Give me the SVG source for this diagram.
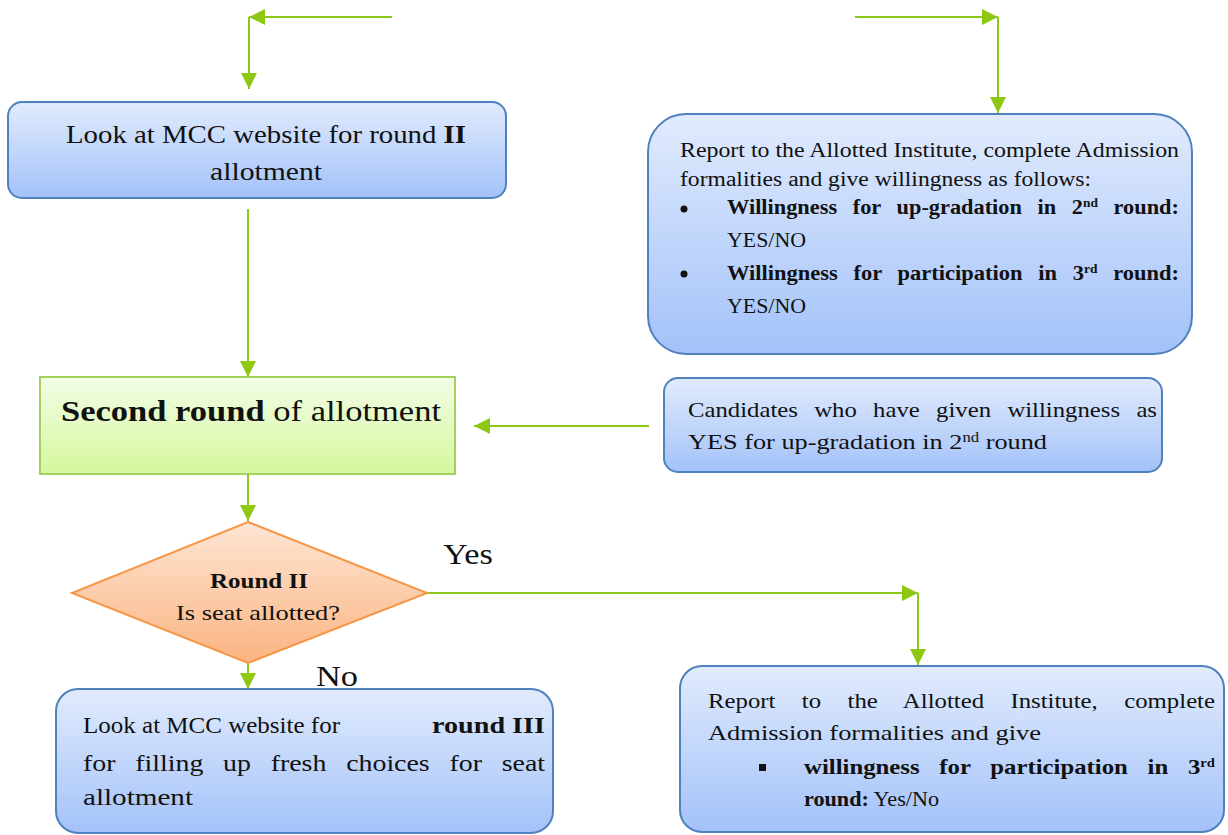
<svg xmlns="http://www.w3.org/2000/svg" width="1228" height="835" viewBox="0 0 1228 835">
<defs>
<linearGradient id="gBlue" x1="0" y1="0" x2="0" y2="1"><stop offset="0" stop-color="#e1ebfd"/><stop offset="1" stop-color="#a3c2f9"/></linearGradient>
<linearGradient id="gGreen" x1="0" y1="0" x2="0" y2="1"><stop offset="0" stop-color="#f3fde6"/><stop offset="1" stop-color="#d5f79e"/></linearGradient>
<linearGradient id="gOrange" x1="0" y1="0" x2="0" y2="1"><stop offset="0" stop-color="#fee6d4"/><stop offset="1" stop-color="#fbb482"/></linearGradient>
<marker id="arr" markerUnits="userSpaceOnUse" markerWidth="16" markerHeight="16" refX="16" refY="8" orient="auto"><path d="M0,0 L16,8 L0,16 z" fill="#8cc814"/></marker>
</defs>
<style>
text{font-family:"Liberation Serif","Times New Roman",serif;fill:#111}
.b{font-weight:bold}
.box{fill:url(#gBlue);stroke:#4f81bd;stroke-width:2}
.con path{fill:none;stroke:#8cc814;stroke-width:2;marker-end:url(#arr)}
</style>
<rect width="1228" height="835" fill="#fff"/>
<g class="con" id="connectors">
<path d="M392,17 H249"/>
<path d="M249,17 V89"/>
<path d="M248,209 V377"/>
<path d="M649,426 H474"/>
<path d="M248,474 V521"/>
<path d="M427,593 H918"/>
<path d="M918,593 V665"/>
<path d="M248,663 V689"/>
<path d="M855,17 H998"/>
<path d="M998,17 V113"/>
<path d="M265,594 H199"/>
</g>
<g id="n1">
<rect class="box" x="8" y="102" width="498" height="96" rx="14"/>
<text x="66" y="143" font-size="25" textLength="400" lengthAdjust="spacingAndGlyphs">Look at MCC website for round <tspan class="b">II</tspan></text>
<text x="210" y="180" font-size="25" textLength="112" lengthAdjust="spacingAndGlyphs">allotment</text>
</g>
<g id="n2">
<rect class="box" x="648" y="114" width="544" height="240" rx="38"/>
<text x="680" y="157" font-size="20" textLength="499" lengthAdjust="spacingAndGlyphs">Report to the Allotted Institute, complete Admission</text>
<text x="680" y="186" font-size="20" textLength="411" lengthAdjust="spacingAndGlyphs">formalities and give willingness as follows:</text>
<circle cx="684" cy="209" r="3.5" fill="#111"/>
<text x="727" y="214" font-size="20" class="b" word-spacing="9" textLength="452" lengthAdjust="spacingAndGlyphs">Willingness for up-gradation in 2<tspan font-size="12" baseline-shift="super">nd</tspan> round:</text>
<text x="727" y="247" font-size="20" textLength="79" lengthAdjust="spacingAndGlyphs">YES/NO</text>
<circle cx="684" cy="274" r="3.5" fill="#111"/>
<text x="727" y="280" font-size="20" class="b" word-spacing="9" textLength="452" lengthAdjust="spacingAndGlyphs">Willingness for participation in 3<tspan font-size="12" baseline-shift="super">rd</tspan> round:</text>
<text x="727" y="313" font-size="20" textLength="79" lengthAdjust="spacingAndGlyphs">YES/NO</text>
</g>
<g id="n3">
<rect x="40" y="377" width="415" height="97" fill="url(#gGreen)" stroke="#a2d160" stroke-width="2"/>
<text x="61" y="421" font-size="29" textLength="380" lengthAdjust="spacingAndGlyphs"><tspan class="b">Second round</tspan> of allotment</text>
</g>
<g id="n4">
<rect class="box" x="664" y="378" width="498" height="94" rx="14"/>
<text x="688" y="417" font-size="22" word-spacing="9" textLength="469" lengthAdjust="spacingAndGlyphs">Candidates who have given willingness as</text>
<text x="688" y="449" font-size="22" textLength="359" lengthAdjust="spacingAndGlyphs">YES for up-gradation in 2<tspan font-size="14" baseline-shift="super">nd</tspan> round</text>
</g>
<g id="n5">
<polygon points="248,522 427,593 248,663 72,593" fill="url(#gOrange)" stroke="#f79646" stroke-width="2"/>
<text x="210" y="588" font-size="21" class="b" textLength="98" lengthAdjust="spacingAndGlyphs">Round II</text>
<text x="176" y="620" font-size="21" textLength="164" lengthAdjust="spacingAndGlyphs">Is seat allotted?</text>
</g>
<g id="labels">
<text x="443" y="564" font-size="29" textLength="50" lengthAdjust="spacingAndGlyphs">Yes</text>
<text x="316" y="686" font-size="29" textLength="42" lengthAdjust="spacingAndGlyphs">No</text>
</g>
<g id="n6">
<rect class="box" x="56" y="689" width="497" height="144" rx="22"/>
<text x="83" y="733" font-size="24" textLength="257" lengthAdjust="spacingAndGlyphs">Look at MCC website for</text>
<text x="432" y="733" font-size="24" class="b" textLength="113" lengthAdjust="spacingAndGlyphs">round III</text>
<text x="83" y="771" font-size="24" word-spacing="11" textLength="462" lengthAdjust="spacingAndGlyphs">for filling up fresh choices for seat</text>
<text x="83" y="805" font-size="24" textLength="110" lengthAdjust="spacingAndGlyphs">allotment</text>
</g>
<g id="n7">
<rect class="box" x="680" y="666" width="544" height="166" rx="22"/>
<text x="708" y="708" font-size="22" word-spacing="18" textLength="507" lengthAdjust="spacingAndGlyphs">Report to the Allotted Institute, complete</text>
<text x="708" y="740" font-size="22" textLength="333" lengthAdjust="spacingAndGlyphs">Admission formalities and give</text>
<rect x="759" y="764" width="7" height="7" fill="#111"/>
<text x="804" y="774" font-size="22" class="b" word-spacing="12" textLength="411" lengthAdjust="spacingAndGlyphs">willingness for participation in 3<tspan font-size="13" baseline-shift="super">rd</tspan></text>
<text x="804" y="806" font-size="22" textLength="135" lengthAdjust="spacingAndGlyphs"><tspan class="b">round:</tspan> Yes/No</text>
</g>
</svg>
